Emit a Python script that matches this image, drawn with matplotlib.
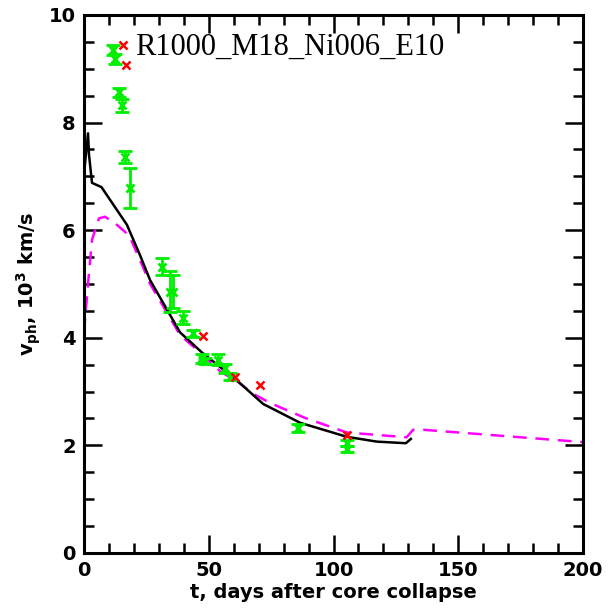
import matplotlib
matplotlib.use('Agg')
import matplotlib.pyplot as plt
from matplotlib.ticker import MultipleLocator

plt.rcParams['mathtext.default'] = 'bf'

# model photospheric velocity (solid black)
t_model = [0.0, 1.6, 2.0, 3.2, 7.0, 17.2, 22.4, 26.5, 38.5, 47.2, 61.2, 71.8, 86.6, 105.3, 117.3, 129.0, 131.0]
v_model = [7.05, 7.8, 7.4, 6.88, 6.80, 6.10, 5.54, 5.07, 4.10, 3.73, 3.21, 2.77, 2.42, 2.16, 2.07, 2.04, 2.12]

# second model (magenta dashed)
t_dash = [0.0, 1.6, 3.2, 6.0, 8.4, 12.4, 16.4, 18.4, 22.4, 26.5, 38.5, 47.2, 55.0, 61.2, 67.7, 75.0, 88.6, 105.3, 129.3, 131.9, 136.0, 197.5, 200.0]
v_dash = [4.1, 5.0, 5.82, 6.22, 6.25, 6.13, 5.97, 5.87, 5.45, 5.0, 4.05, 3.70, 3.36, 3.20, 2.96, 2.78, 2.51, 2.24, 2.15, 2.29, 2.29, 2.07, 2.06]

# observed velocities (green, with errors)
t_obs = [11.8, 12.3, 14.0, 15.2, 16.4, 18.4, 31.1, 34.5, 35.8, 39.8, 43.8, 47.2, 48.5, 53.8, 56.5, 58.5, 85.9, 105.3, 105.6]
v_obs = [9.35, 9.18, 8.56, 8.32, 7.36, 6.78, 5.32, 4.86, 4.86, 4.37, 4.08, 3.62, 3.57, 3.59, 3.43, 3.28, 2.32, 2.04, 1.93]
e_obs = [0.10, 0.10, 0.08, 0.12, 0.12, 0.37, 0.16, 0.39, 0.31, 0.12, 0.06, 0.08, 0.06, 0.10, 0.08, 0.06, 0.07, 0.06, 0.06]

# other measurements (red crosses)
t_red = [15.8, 16.8, 47.8, 60.5, 70.5, 105.3]
v_red = [9.44, 9.07, 4.03, 3.28, 3.12, 2.19]

fig = plt.figure(figsize=(6.16, 6.09), dpi=100)
ax = fig.add_axes([0.1364, 0.092, 0.81, 0.8834])

ax.plot(t_dash, v_dash, color='#ff00ff', lw=1.8, ls=(0, (5.5, 3.5)), zorder=2)
ax.plot(t_model, v_model, color='black', lw=1.8, zorder=3)
ax.errorbar(t_obs, v_obs, yerr=e_obs, fmt='x', color='#00ee00', ms=6, mew=2,
            elinewidth=2, capsize=5, capthick=2, zorder=4)
ax.plot(t_red, v_red, 'x', color='red', ms=6, mew=1.8, zorder=5)

ax.text(20.5, 9.4, 'R1000_M18_Ni006_E10', family='Liberation Serif', fontsize=22,
        va='center', ha='left')

ax.set_xlim(0, 200)
ax.set_ylim(0, 10)
ax.xaxis.set_major_locator(MultipleLocator(50))
ax.xaxis.set_minor_locator(MultipleLocator(10))
ax.yaxis.set_major_locator(MultipleLocator(2))
ax.yaxis.set_minor_locator(MultipleLocator(0.5))
ax.tick_params(which='both', direction='in', top=True, right=True, width=1.8)
ax.tick_params(which='major', length=13, labelsize=14, pad=6)
ax.tick_params(which='minor', length=7)
for lab in ax.get_xticklabels() + ax.get_yticklabels():
    lab.set_fontweight('bold')
for s in ax.spines.values():
    s.set_linewidth(2.2)

ax.set_xlabel('t, days after core collapse', fontsize=14, fontweight='bold', labelpad=2)
ax.set_ylabel(r'v$_{ph}$, 10$^3$ km/s', fontsize=14, fontweight='bold', labelpad=4)

fig.savefig('out.png', dpi=100)
